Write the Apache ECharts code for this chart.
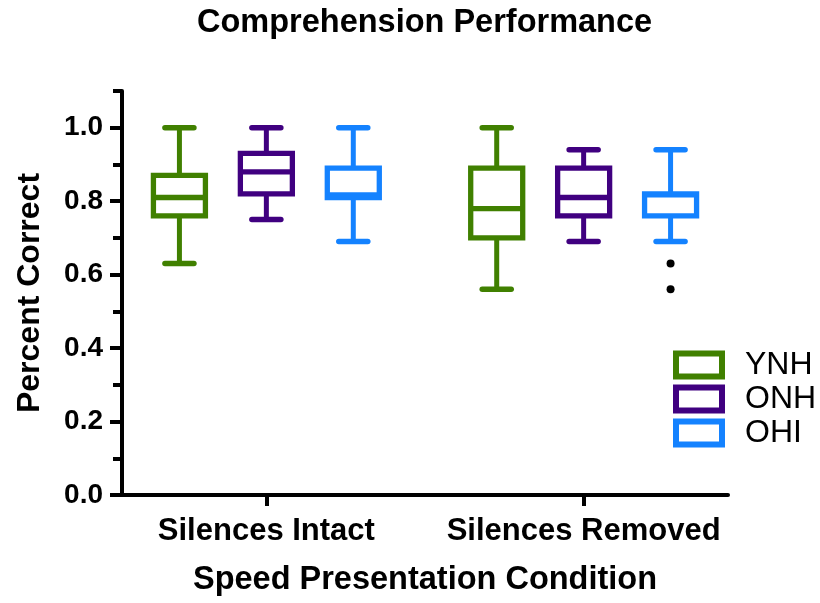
<!DOCTYPE html>
<html><head><meta charset="utf-8">
<script src="https://cdn.jsdelivr.net/npm/echarts@6/dist/echarts.min.js"></script>
<style>html,body{margin:0;padding:0;background:#fff}#chart{width:820px;height:603px}</style>
</head><body><div id="chart"></div>
<script>
// ---- data ----
const categories = ['Silences Intact', 'Silences Removed'];
const groupNames = ['YNH', 'ONH', 'OHI'];
// each entry: [min, Q1, median, Q3, max] for each category
const ynh = [[0.63, 0.76, 0.81, 0.87, 1.00], [0.56, 0.70, 0.78, 0.89, 1.00]];
const onh = [[0.75, 0.82, 0.88, 0.93, 1.00], [0.69, 0.76, 0.81, 0.89, 0.94]];
const ohi = [[0.69, 0.81, 0.817, 0.89, 1.00], [0.69, 0.76, 0.817, 0.82, 0.94]];
// outliers per category
const ohiOutliers = [[], [0.63, 0.56]];
const yMajorTicks = [0, 0.2, 0.4, 0.6, 0.8, 1.0];
const yMinorTicks = [0.1, 0.3, 0.5, 0.7, 0.9, 1.1];
const xTicks = [0, 1];

const colors = ['#408000', '#400080', '#1482FF'];
const groupData = [ynh, onh, ohi];

function boxRows(arr) { return arr.map((v, i) => [i].concat(v)); }
function outlierRows(arr) {
  const rows = [];
  arr.forEach((vals, i) => vals.forEach(v => rows.push([i, v])));
  return rows;
}

const SLOT = 0.274; // offset of a box from group center, in category units
function boxRenderer(slot, color) {
  return function (params, api) {
    const ci = api.value(0);
    const unit = api.size([1, 0])[0];
    const x = api.coord([ci, 0])[0] + slot * SLOT * unit;
    const y = v => api.coord([ci, v])[1];
    const yMin = y(api.value(1)), yQ1 = y(api.value(2)), yMed = y(api.value(3)),
          yQ3 = y(api.value(4)), yMax = y(api.value(5));
    const hw = 26, cw = 14.5;
    const st = {stroke: color, lineWidth: 5, fill: null};
    const cap = {stroke: color, lineWidth: 5.5, lineCap: 'round', fill: null};
    return {type: 'group', children: [
      {type: 'line', shape: {x1: x, y1: yQ3, x2: x, y2: yMax}, style: st},
      {type: 'line', shape: {x1: x, y1: yQ1, x2: x, y2: yMin}, style: st},
      {type: 'line', shape: {x1: x - cw, y1: yMax, x2: x + cw, y2: yMax}, style: cap},
      {type: 'line', shape: {x1: x - cw, y1: yMin, x2: x + cw, y2: yMin}, style: cap},
      {type: 'rect', shape: {x: x - hw, y: yQ3, width: 2 * hw, height: yQ1 - yQ3},
        style: {stroke: color, lineWidth: 5.3, fill: '#fff'}},
      {type: 'line', shape: {x1: x - hw, y1: yMed, x2: x + hw, y2: yMed}, style: {stroke: color, lineWidth: 5.3}}
    ]};
  };
}
function outlierRenderer(slot) {
  return function (params, api) {
    const ci = api.value(0);
    const unit = api.size([1, 0])[0];
    const p = api.coord([ci, api.value(1)]);
    return {type: 'circle', shape: {cx: p[0] + slot * SLOT * unit, cy: p[1], r: 4}, style: {fill: '#000'}};
  };
}

const series = groupNames.map((name, gi) => ({
  name: name,
  type: 'custom',
  renderItem: boxRenderer(gi - 1, colors[gi]),
  itemStyle: {color: colors[gi]},
  encode: {x: 0, y: [1, 2, 3, 4, 5]},
  data: boxRows(groupData[gi])
}));
series.push({
  name: 'OHI outliers',
  type: 'custom',
  renderItem: outlierRenderer(1),
  itemStyle: {color: '#000'},
  encode: {x: 0, y: 1},
  data: outlierRows(ohiOutliers)
});

const font = "'Liberation Sans', Arial, Helvetica, sans-serif";
const chart = echarts.init(document.getElementById('chart'), null, {renderer: 'canvas'});
chart.setOption({
  animation: false,
  backgroundColor: '#fff',
  title: {
    text: 'Comprehension Performance',
    left: 197, top: 0, padding: [7, 0, 0, 0],
    textStyle: {fontFamily: font, fontWeight: 'bold', fontSize: 32.5, color: '#000'}
  },
  legend: {
    orient: 'vertical', left: 673, top: 349, padding: 0,
    itemWidth: 46, itemHeight: 23, itemGap: 2, selectedMode: false,
    textStyle: {fontFamily: font, fontSize: 32, color: '#000', lineHeight: 32, padding: [0, 0, 0, 18]},
    data: groupNames.map((n, i) => ({
      name: n, icon: 'rect',
      itemStyle: {color: '#fff', borderColor: colors[i], borderWidth: 6}
    }))
  },
  grid: {left: 122, right: 92, top: 91, bottom: 108},
  xAxis: {
    type: 'value', min: -0.455, max: 1.455,
    name: 'Speed Presentation Condition', nameLocation: 'middle', nameGap: 69,
    nameTextStyle: {fontFamily: font, fontWeight: 'bold', fontSize: 32.5, color: '#000'},
    axisLine: {show: true, onZero: false, lineStyle: {color: '#000', width: 4}},
    axisTick: {show: true, customValues: xTicks, length: 11, lineStyle: {color: '#000', width: 4}},
    axisLabel: {customValues: xTicks, formatter: v => categories[Math.round(v)] || '', margin: 21,
      fontFamily: font, fontWeight: 'bold', fontSize: 31, color: '#000'},
    splitLine: {show: false}
  },
  yAxis: [{
    type: 'value', min: 0, max: 1.1, interval: 0.2, position: 'left',
    name: 'Percent Correct', nameLocation: 'middle', nameGap: 76,
    nameTextStyle: {fontFamily: font, fontWeight: 'bold', fontSize: 32, color: '#000'},
    axisLine: {show: true, onZero: false, lineStyle: {color: '#000', width: 4}},
    axisTick: {show: true, customValues: yMajorTicks, length: 12, lineStyle: {color: '#000', width: 4}},
    axisLabel: {customValues: yMajorTicks, formatter: v => v.toFixed(1), margin: 19,
      fontFamily: font, fontWeight: 'bold', fontSize: 28, color: '#000'},
    splitLine: {show: false}
  }, {
    type: 'value', min: 0, max: 1.1, interval: 0.1, position: 'left', offset: 0,
    axisLine: {show: false, onZero: false},
    axisTick: {show: true, customValues: yMinorTicks, length: 9, lineStyle: {color: '#000', width: 4}},
    axisLabel: {show: false},
    splitLine: {show: false}
  }],
  series: series
});
</script></body></html>
